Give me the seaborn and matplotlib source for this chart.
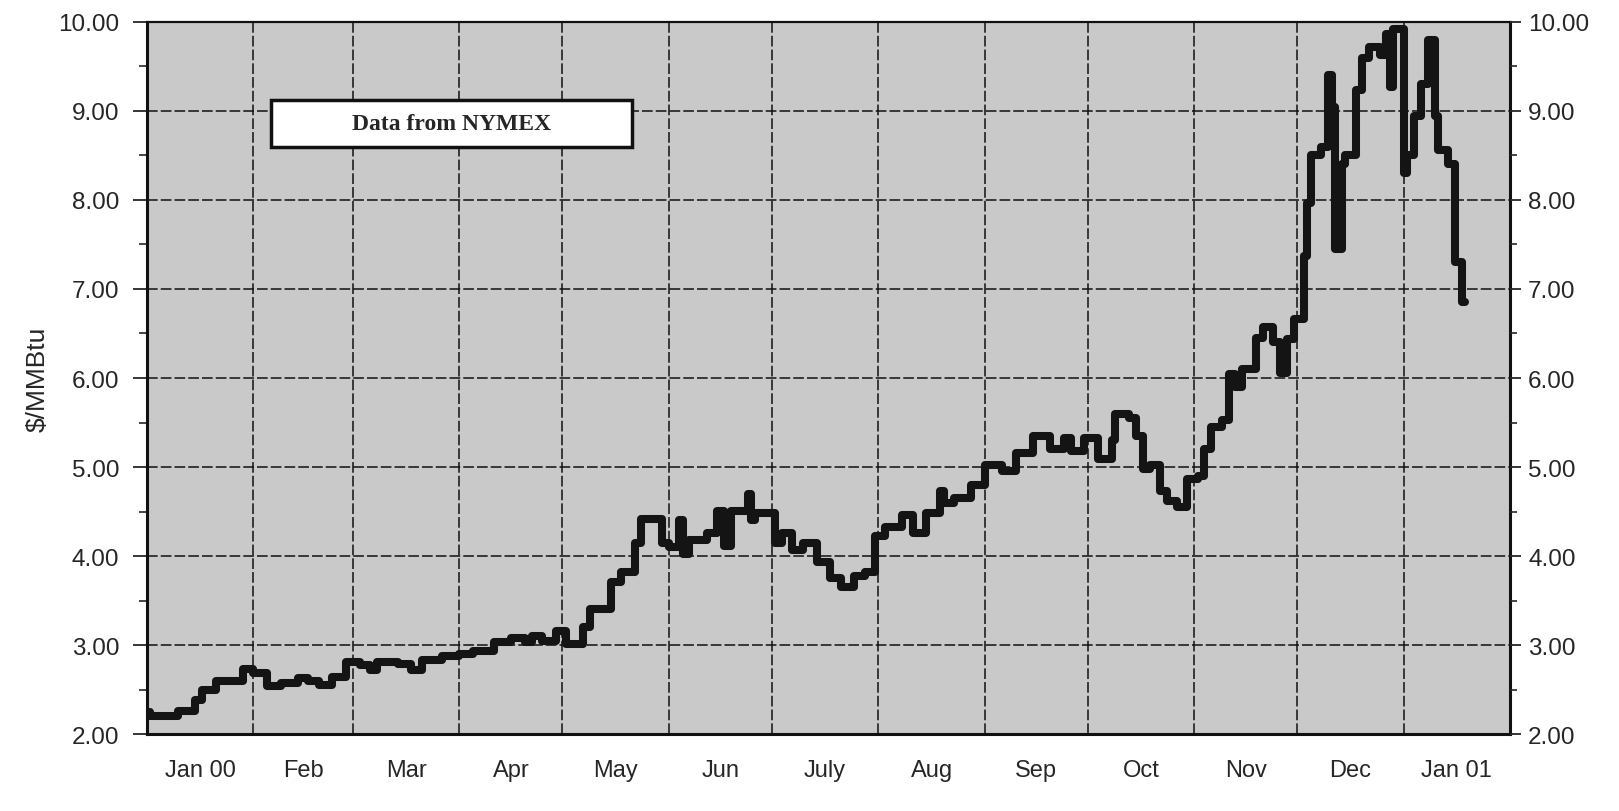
import matplotlib
matplotlib.use("Agg")
import matplotlib.pyplot as plt
import matplotlib.patches as mpatches
import numpy as np
import pandas as pd
import seaborn as sns

# NYMEX natural gas price (segment start date, $/MMBtu)
dates = [
    "2000-01-01", "2000-01-02", "2000-01-10", "2000-01-15", "2000-01-17",
    "2000-01-21", "2000-01-29", "2000-02-01", "2000-02-05", "2000-02-09",
    "2000-02-14", "2000-02-17", "2000-02-20", "2000-02-24", "2000-02-28",
    "2000-03-03", "2000-03-06", "2000-03-08", "2000-03-14", "2000-03-18",
    "2000-03-21", "2000-03-27", "2000-04-01", "2000-04-05", "2000-04-11",
    "2000-04-16", "2000-04-20", "2000-04-22", "2000-04-25", "2000-04-29",
    "2000-05-02", "2000-05-07", "2000-05-09", "2000-05-15", "2000-05-18",
    "2000-05-22", "2000-05-24", "2000-05-30", "2000-06-01", "2000-06-04",
    "2000-06-05", "2000-06-07", "2000-06-12", "2000-06-15", "2000-06-17",
    "2000-06-19", "2000-06-24", "2000-06-25", "2000-06-26", "2000-07-02",
    "2000-07-04", "2000-07-07", "2000-07-10", "2000-07-14", "2000-07-18",
    "2000-07-21", "2000-07-25", "2000-07-28", "2000-07-31", "2000-08-03",
    "2000-08-08", "2000-08-11", "2000-08-15", "2000-08-19", "2000-08-20",
    "2000-08-23", "2000-08-28", "2000-09-01", "2000-09-06", "2000-09-10",
    "2000-09-15", "2000-09-20", "2000-09-24", "2000-09-26", "2000-09-30",
    "2000-10-04", "2000-10-08", "2000-10-09", "2000-10-13", "2000-10-15",
    "2000-10-17", "2000-10-19", "2000-10-22", "2000-10-24", "2000-10-27",
    "2000-10-30", "2000-11-02", "2000-11-04", "2000-11-06", "2000-11-09",
    "2000-11-11", "2000-11-13", "2000-11-15", "2000-11-19", "2000-11-21",
    "2000-11-24", "2000-11-26", "2000-11-28", "2000-11-30", "2000-12-03",
    "2000-12-04", "2000-12-05", "2000-12-08", "2000-12-10", "2000-12-11",
    "2000-12-12", "2000-12-14", "2000-12-15", "2000-12-18", "2000-12-20",
    "2000-12-22", "2000-12-25", "2000-12-27", "2000-12-28", "2000-12-29",
    "2001-01-01", "2001-01-02", "2001-01-04", "2001-01-06", "2001-01-08",
    "2001-01-10", "2001-01-11", "2001-01-14", "2001-01-16", "2001-01-18",
    "2001-01-19",
]
prices = [
    2.25, 2.20, 2.26, 2.38, 2.50,
    2.60, 2.73, 2.68, 2.54, 2.57,
    2.63, 2.60, 2.55, 2.64, 2.81,
    2.77, 2.72, 2.81, 2.79, 2.72,
    2.83, 2.88, 2.90, 2.93, 3.03,
    3.08, 3.03, 3.10, 3.05, 3.16,
    3.01, 3.20, 3.41, 3.71, 3.82,
    4.15, 4.42, 4.15, 4.10, 4.40,
    4.02, 4.18, 4.26, 4.51, 4.11,
    4.51, 4.70, 4.40, 4.48, 4.15,
    4.26, 4.07, 4.15, 3.93, 3.75,
    3.65, 3.78, 3.82, 4.22, 4.33,
    4.46, 4.26, 4.48, 4.73, 4.59,
    4.65, 4.80, 5.02, 4.96, 5.16,
    5.35, 5.20, 5.33, 5.18, 5.33,
    5.09, 5.30, 5.60, 5.55, 5.35,
    4.98, 5.02, 4.73, 4.62, 4.55,
    4.87, 4.90, 5.20, 5.45, 5.53,
    6.04, 5.90, 6.10, 6.45, 6.57,
    6.40, 6.06, 6.44, 6.66, 7.37,
    7.97, 8.50, 8.60, 9.40, 9.05,
    7.45, 8.40, 8.50, 9.24, 9.60,
    9.72, 9.63, 9.87, 9.27, 9.92,
    8.30, 8.50, 8.94, 9.30, 9.80,
    8.94, 8.56, 8.40, 7.30, 6.85,
    6.85,
]
month_labels = ["Jan 00", "Feb", "Mar", "Apr", "May", "Jun", "July",
                "Aug", "Sep", "Oct", "Nov", "Dec", "Jan 01"]
y_ticks = [2, 3, 4, 5, 6, 7, 8, 9, 10]

df = pd.DataFrame({"date": pd.to_datetime(dates), "price": prices})

sns.set_style("ticks")
plt.rcParams["font.family"] = ["Liberation Sans", "DejaVu Sans"]

fig = plt.figure(figsize=(16.19, 8.12), dpi=100)
ax = fig.add_axes([0.0908, 0.0948, 0.8419, 0.8769])
ax.set_facecolor("#c9c9c9")

sns.lineplot(data=df, x="date", y="price", color="#141414", linewidth=5.8,
             drawstyle="steps-post", ax=ax, zorder=5)

month_starts = pd.date_range("2000-01-01", "2001-02-01", freq="MS")
mid_months = month_starts[:-1] + (month_starts[1:] - month_starts[:-1]) / 2

ax.set_xlim(month_starts[0], month_starts[-1])
ax.set_ylim(2, 10)

# month labels centred in each month, gridlines at month boundaries
ax.set_xticks(mid_months)
ax.set_xticklabels(month_labels, fontsize=17)
ax.set_xticks(month_starts, minor=True)
ax.tick_params(axis="x", which="major", length=0, pad=18)
ax.tick_params(axis="x", which="minor", length=0)
ax.grid(which="minor", axis="x", color="#111111", linewidth=1.1,
        linestyle=(0, (7, 2)))

ax.set_yticks(y_ticks)
ax.set_yticklabels([f"{v:.2f}" for v in y_ticks], fontsize=17.5)
ax.set_yticks(np.arange(2.5, 10, 1.0), minor=True)
ax.tick_params(axis="y", which="major", length=10, width=1.3, pad=10,
               direction="out")
ax.tick_params(axis="y", which="minor", length=6, width=1.2, direction="out")
ax.grid(which="major", axis="y", color="#111111", linewidth=1.1,
        linestyle=(0, (7, 2)))
ax.set_axisbelow(True)

ax.set_xlabel("")
ax.set_ylabel(r"\$/MMBtu", fontsize=19, labelpad=6)

for side in ["left", "bottom", "right"]:
    ax.spines[side].set_linewidth(2.2)
    ax.spines[side].set_color("#111111")
ax.spines["top"].set_linewidth(1.6)
ax.spines["top"].set_color("#111111")

ax2 = ax.twinx()
ax2.set_ylim(2, 10)
ax2.set_yticks(y_ticks)
ax2.set_yticklabels([f"{v:.2f}" for v in y_ticks], fontsize=17.5)
ax2.set_yticks(np.arange(2.5, 10, 1.0), minor=True)
ax2.tick_params(axis="y", which="major", length=8, width=1.3, pad=5)
ax2.tick_params(axis="y", which="minor", length=5, width=1.2)
for s in ax2.spines.values():
    s.set_visible(False)

# "Data from NYMEX" box
box = mpatches.Rectangle((0.091, 0.825), 0.265, 0.066, transform=ax.transAxes,
                         facecolor="white", edgecolor="#111111", linewidth=2.5,
                         zorder=6)
ax.add_patch(box)
ax.text(0.2235, 0.858, "Data from NYMEX", transform=ax.transAxes,
        ha="center", va="center", fontsize=17, fontweight="bold",
        family=["Liberation Serif", "DejaVu Serif"], zorder=7)

fig.savefig("out.png", dpi=100)
